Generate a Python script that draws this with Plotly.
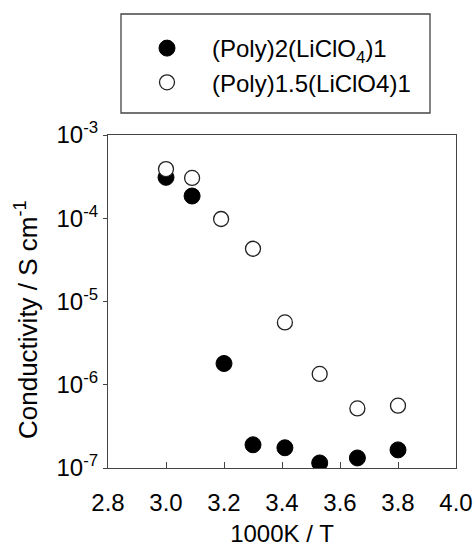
import plotly.graph_objects as go

x_filled = [3.00, 3.09, 3.20, 3.30, 3.41, 3.53, 3.66, 3.80]
y_filled = [3.1e-4, 1.85e-4, 1.8e-6, 1.9e-7, 1.75e-7, 1.15e-7, 1.32e-7, 1.65e-7]
x_open = [3.00, 3.09, 3.19, 3.30, 3.41, 3.53, 3.66, 3.80]
y_open = [3.9e-4, 3.05e-4, 9.8e-5, 4.3e-5, 5.6e-6, 1.35e-6, 5.2e-7, 5.6e-7]
name_filled = "(Poly)2(LiClO<sub>4</sub>)1"
name_open = "(Poly)1.5(LiClO4)1"
x_ticks = [2.8, 3.0, 3.2, 3.4, 3.6, 3.8, 4.0]
y_tickvals = [1e-7, 1e-6, 1e-5, 1e-4, 1e-3]
y_ticktext = ["10<sup>-7</sup>", "10<sup>-6</sup>", "10<sup>-5</sup>", "10<sup>-4</sup>", "10<sup>-3</sup>"]
x_title = "1000K / T"
y_title = "Conductivity / S cm<sup>-1</sup>"

FONT = "Liberation Sans, Arial, sans-serif"

fig = go.Figure()
fig.add_trace(go.Scatter(x=x_filled, y=y_filled, mode="markers", name=name_filled,
                         marker=dict(symbol="circle", size=16, color="black",
                                     line=dict(color="black", width=1))))
fig.add_trace(go.Scatter(x=x_open, y=y_open, mode="markers", name=name_open,
                         marker=dict(symbol="circle", size=15, color="white",
                                     line=dict(color="#222", width=1.3))))

W, H = 475, 547
ml, mr, mt, mb = 108, 19, 135, 79
pw, ph = W - ml - mr, H - mt - mb

def px(xp):
    return (xp - ml) / pw

def py(yp):
    return (H - mb - yp) / ph

fig.add_shape(type="rect", xref="paper", yref="paper",
              x0=px(121), x1=px(430), y0=py(113), y1=py(14),
              line=dict(color="#444", width=1.3), fillcolor="rgba(0,0,0,0)")

fig.add_annotation(text=y_title, xref="paper", yref="paper",
                   x=px(26), y=py(320), xanchor="center", yanchor="middle",
                   textangle=-90, showarrow=False,
                   font=dict(family=FONT, size=26, color="black"))

fig.update_layout(
    width=W, height=H,
    margin=dict(l=ml, r=mr, t=mt, b=mb, pad=0, autoexpand=False),
    paper_bgcolor="white", plot_bgcolor="white",
    font=dict(family=FONT, size=24, color="black"),
    showlegend=True,
    legend=dict(x=px(122), y=py(26), xanchor="left", yanchor="top",
                bgcolor="rgba(0,0,0,0)", borderwidth=0,
                font=dict(family=FONT, size=24, color="black"),
                itemwidth=80, tracegroupgap=0),
    xaxis=dict(range=[2.8, 4.0], tickvals=x_ticks, ticktext=[f"{v:.1f}" for v in x_ticks],
               ticks="inside", ticklen=6, tickcolor="#444", tickwidth=1,
               ticklabelstandoff=13, automargin=False,
               showline=True, mirror=True, linecolor="#444", linewidth=1.3,
               showgrid=False, zeroline=False,
               title=dict(text=x_title, font=dict(size=24), standoff=13)),
    yaxis=dict(type="log", range=[-7, -3], tickvals=y_tickvals, ticktext=y_ticktext,
               ticks="outside", ticklen=4, tickcolor="#444", tickwidth=1,
               automargin=False,
               showline=True, mirror=True, linecolor="#444", linewidth=1.3,
               showgrid=False, zeroline=False),
)

fig.write_html("out.html")
